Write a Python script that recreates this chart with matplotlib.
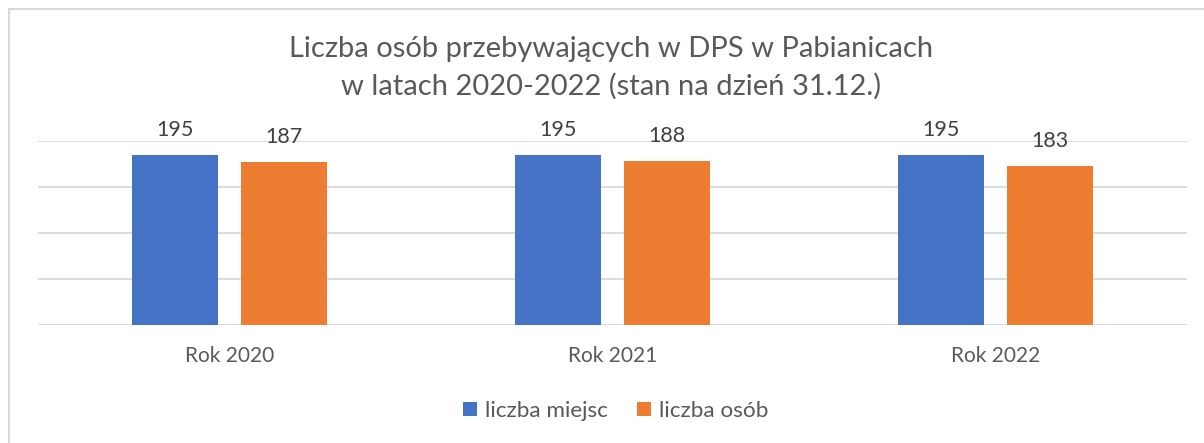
import numpy as np
import matplotlib.pyplot as plt
from matplotlib.patches import Rectangle

categories = ["Rok 2020", "Rok 2021", "Rok 2022"]
miejsca = [195, 195, 195]
osoby = [187, 188, 183]
series_names = ["liczba miejsc", "liczba osób"]
title = "Liczba osób przebywających w DPS w Pabianicach\nw latach 2020-2022 (stan na dzień 31.12.)"

BLUE = "#4472C4"
ORANGE = "#ED7D31"
GRID = "#D9D9D9"
TXT = "#595959"

plt.rcParams['font.family'] = ['Lato', 'DejaVu Sans']

W, H = 1204, 443
fig = plt.figure(figsize=(W / 100, H / 100), dpi=100)

# chart border (only top/left visible in the reference)
fig.patches.append(Rectangle((9 / W, -0.05), 1.1, 1 - 9 / H + 0.05, transform=fig.transFigure,
                             fill=False, edgecolor=GRID, linewidth=1.5))

ax = fig.add_axes([38 / W, 1 - 325 / H, (1187 - 38) / W, (325 - 141) / H])

x = np.arange(len(categories))
bw = 0.223
off = 0.142
b1 = ax.bar(x - off, miejsca, bw, color=BLUE, label=series_names[0], zorder=3)
b2 = ax.bar(x + off, osoby, bw, color=ORANGE, label=series_names[1], zorder=3)

ax.set_xlim(-0.5, 2.5)
ax.set_ylim(10, 210)
ax.set_yticks([10, 60, 110, 160, 210])
ax.yaxis.grid(True, color=GRID, linewidth=1.3, zorder=0)
ax.set_yticklabels([])
ax.tick_params(axis='y', length=0)
ax.tick_params(axis='x', length=0, pad=15, labelsize=15, labelcolor=TXT)
ax.set_xticks(x)
ax.set_xticklabels(categories)
for s in ax.spines.values():
    s.set_visible(False)

for bars in (b1, b2):
    for r in bars:
        ax.annotate(str(int(r.get_height())), (r.get_x() + r.get_width() / 2, r.get_height()),
                    xytext=(0, 11), textcoords='offset points', ha='center', va='bottom',
                    fontsize=15.5, color="#404040")

fig.text(611 / W, 1 - 68 / H, title, ha='center', va='center', fontsize=21, color=TXT,
         linespacing=1.47)

fig.legend(handles=[b1, b2], labels=series_names, loc='center', bbox_to_anchor=(616 / W, 1 - 411 / H),
           ncol=2, frameon=False, fontsize=16.2, handlelength=0.62, handleheight=0.62,
           handletextpad=0.35, columnspacing=1.3, labelcolor=TXT)

fig.savefig("out.png", dpi=100)
